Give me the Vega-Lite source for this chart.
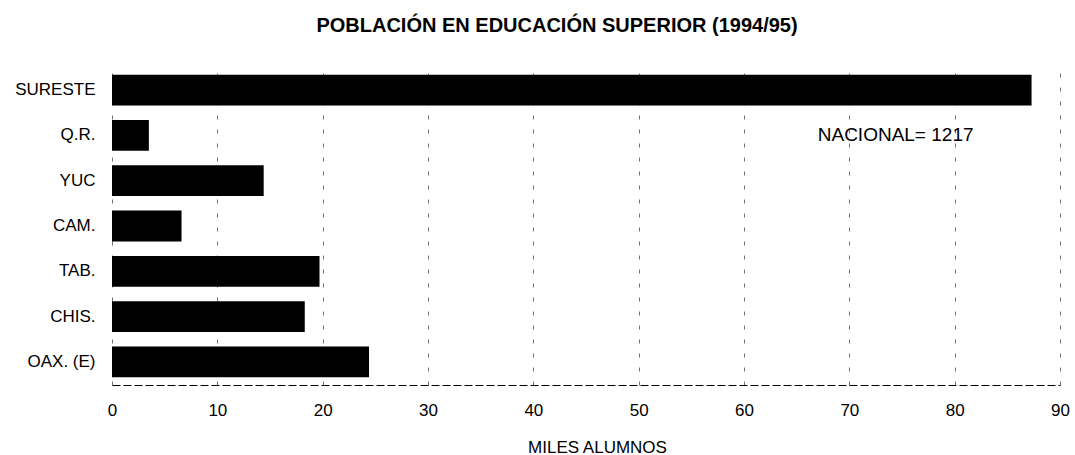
{
  "$schema": "https://vega.github.io/schema/vega-lite/v6.json",
  "width": 948,
  "height": 318,
  "autosize": "none",
  "padding": {"left": 112, "top": 67, "right": 15, "bottom": 70},
  "background": "white",
  "title": {
    "text": "POBLACIÓN EN EDUCACIÓN SUPERIOR (1994/95)",
    "font": "Liberation Sans, Arial",
    "fontSize": 20,
    "fontWeight": "bold",
    "color": "black",
    "anchor": "middle",
    "dx": -29,
    "offset": 31
  },
  "config": {
    "view": {"stroke": null},
    "font": "Liberation Sans, Arial"
  },
  "datasets": {
    "bars": [
      {"region": "SURESTE", "miles": 87.3},
      {"region": "Q.R.", "miles": 3.5},
      {"region": "YUC", "miles": 14.4},
      {"region": "CAM.", "miles": 6.6},
      {"region": "TAB.", "miles": 19.7},
      {"region": "CHIS.", "miles": 18.3},
      {"region": "OAX. (E)", "miles": 24.4}
    ],
    "note": [
      {"region": "Q.R.", "miles": 67.0, "label": "NACIONAL= 1217"}
    ]
  },
  "encoding": {
    "y": {
      "field": "region",
      "type": "nominal",
      "sort": ["SURESTE", "Q.R.", "YUC", "CAM.", "TAB.", "CHIS.", "OAX. (E)"],
      "scale": {"paddingInner": 0.32, "paddingOuter": 0.17},
      "axis": {
        "title": null,
        "domain": false,
        "ticks": false,
        "labelPadding": 17,
        "labelFontSize": 17,
        "labelColor": "black",
        "labelFont": "Liberation Sans, Arial"
      }
    },
    "x": {
      "field": "miles",
      "type": "quantitative",
      "scale": {"domain": [0, 90], "nice": false},
      "axis": {
        "title": "MILES ALUMNOS",
        "titleFontSize": 17,
        "titleFontWeight": "normal",
        "titleColor": "black",
        "titleFont": "Liberation Sans, Arial",
        "titlePadding": 21,
        "titleX": 485,
        "titleAlign": "center",
        "values": [0, 10, 20, 30, 40, 50, 60, 70, 80, 90],
        "ticks": false,
        "labelPadding": 17,
        "labelFontSize": 17,
        "labelColor": "black",
        "labelFlush": false,
        "domainColor": "black",
        "domainDash": [8, 3],
        "domainWidth": 1,
        "grid": true,
        "gridColor": "#333333",
        "gridDash": [4, 10],
        "gridWidth": 1,
        "gridOpacity": 0.7
      }
    }
  },
  "layer": [
    {
      "data": {"name": "bars"},
      "mark": {"type": "bar", "color": "black"}
    },
    {
      "data": {"name": "note"},
      "mark": {"type": "text", "align": "left", "baseline": "middle", "fontSize": 19, "color": "black", "font": "Liberation Sans, Arial"},
      "encoding": {
        "text": {"field": "label"}
      }
    }
  ]
}
